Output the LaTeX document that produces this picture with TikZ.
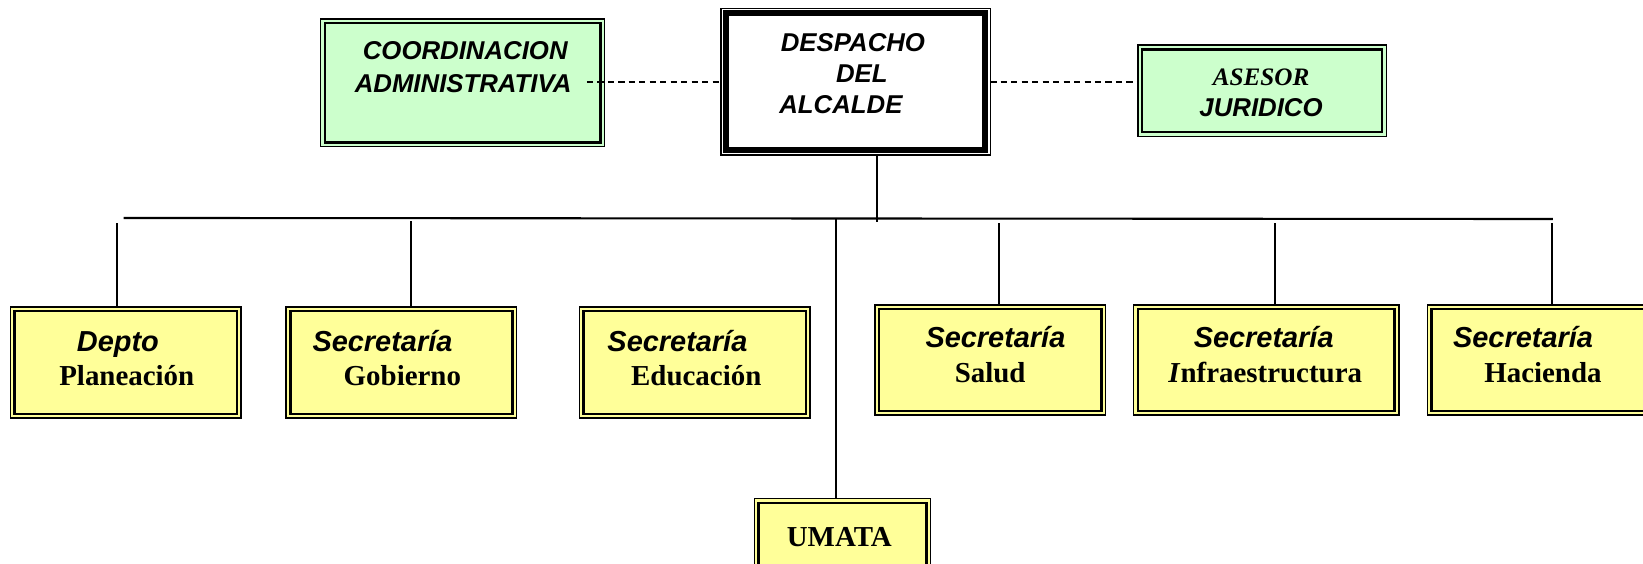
\documentclass[tikz,border=0pt]{standalone}
\usepackage{fontspec}
\setmainfont{Liberation Serif}
\newfontfamily\arialf{Liberation Sans}
\definecolor{boxgreen}{HTML}{CCFFCC}
\definecolor{boxyellow}{HTML}{FFFF99}
\tikzset{
  frame/.style={draw=black, line width=0.6pt, inner sep=0pt, outer sep=0pt, anchor=north west,
    path picture={\draw[line width=1.2pt] ([xshift=2pt,yshift=2pt]path picture bounding box.south west) rectangle ([xshift=-2pt,yshift=-2pt]path picture bounding box.north east);}},
  ybox/.style={frame, fill=boxyellow},
  gbox/.style={frame, fill=boxgreen},
  mainbox/.style={draw=black, line width=0.6pt, inner sep=0pt, outer sep=0pt, anchor=north west, fill=white,
    path picture={\draw[line width=2.8pt] ([xshift=2.3pt,yshift=2.3pt]path picture bounding box.south west) rectangle ([xshift=-2.3pt,yshift=-2.3pt]path picture bounding box.north east);}},
  sfbig/.style={font=\arialf\bfseries\itshape\fontsize{13.8}{16}\selectfont, anchor=base, inner sep=0pt},
  rmbig/.style={font=\bfseries\fontsize{13.8}{16}\selectfont, anchor=base, inner sep=0pt},
  sftop/.style={font=\arialf\bfseries\itshape\fontsize{12.3}{15}\selectfont, anchor=base, inner sep=0pt},
  rmtop/.style={font=\bfseries\itshape\fontsize{12}{15}\selectfont, anchor=base, inner sep=0pt},
  link/.style={line width=0.9pt},
  dashlink/.style={line width=0.85pt, dash pattern=on 3pt off 2pt},
}
\begin{document}
\begin{tikzpicture}[x=0.5pt,y=-0.5pt]
\useasboundingbox (0,0) rectangle (1568,538);
% top boxes
\node[gbox, minimum width=135.5pt, minimum height=61pt] (coord) at (306,18) {};
\node[mainbox, minimum width=128.5pt, minimum height=70pt] (desp) at (688,8) {};
\node[gbox, minimum width=118.5pt, minimum height=43.5pt] (ases) at (1086,43) {};
\node[sftop] (t1) at (444,57) {COORDINACION};
\node[sftop] (t2) at (442,88) {ADMINISTRATIVA};
\node[sftop] (t3) at (814,49) {DESPACHO};
\node[sftop] (t4) at (822.5,79) {DEL};
\node[sftop] (t5) at (802.5,108) {ALCALDE};
\node[rmtop] (t6) at (1203.5,82) {ASESOR};
\node[sftop] (t7) at (1203.5,111) {JURIDICO};
% bottom boxes
\node[ybox, minimum width=110pt, minimum height=53pt] (dep) at (10,293) {};
\node[ybox, minimum width=110pt, minimum height=53pt] (gob) at (273,293) {};
\node[ybox, minimum width=110pt, minimum height=53pt] (edu) at (553,293) {};
\node[ybox, minimum width=110pt, minimum height=52.5pt] (sal) at (835,291) {};
\node[ybox, minimum width=126.5pt, minimum height=52.5pt] (inf) at (1082,291) {};
\node[ybox, minimum width=160pt, minimum height=52.5pt] (hac) at (1362,291) {};
\node[ybox, minimum width=84pt, minimum height=60pt] (uma) at (720,476) {};
\node[sfbig] (b1) at (112.5,335) {Depto};
\node[rmbig] (b2) at (121,368) {Planeación};
\node[sfbig] (b3) at (365,335) {Secretaría};
\node[rmbig] (b4) at (384,368) {Gobierno};
\node[sfbig] (b5) at (646.5,335) {Secretaría};
\node[rmbig] (b6) at (664.5,368) {Educación};
\node[sfbig] (b7) at (950,332) {Secretaría};
\node[rmbig] (b8) at (945,365) {Salud};
\node[sfbig] (b9) at (1206,332) {Secretaría};
\node[rmbig] (b10) at (1207.5,365) {\textit{I}nfraestructura};
\node[sfbig] (b11) at (1453.5,332) {Secretaría};
\node[rmbig] (b12) at (1472.5,365) {Hacienda};
\node[rmbig] (b13) at (801,522) {UMATA};
% connectors
\coordinate (cd) at (560,78);
\draw[dashlink] (cd) -- (cd -| desp.west);
\draw[dashlink] (desp.east) -- (desp.east -| ases.west);
\coordinate (hl) at (118,208);
\coordinate (hr) at (1482,209);
\coordinate (hd) at (837,212);
\draw[line width=1pt] (hl) -- (hr);
\draw[link] (hd |- desp.south) -- (hd);
\coordinate (v1) at (112,213);
\coordinate (v2) at (392,211);
\coordinate (v3) at (798,208);
\coordinate (v4) at (953,213);
\coordinate (v5) at (1217,213);
\coordinate (v6) at (1481,213);
\draw[link] (v1) -- (v1 |- dep.north);
\draw[link] (v2) -- (v2 |- gob.north);
\draw[link] (v3) -- (v3 |- uma.north);
\draw[link] (v4) -- (v4 |- sal.north);
\draw[link] (v5) -- (v5 |- inf.north);
\draw[link] (v6) -- (v6 |- hac.north);
\end{tikzpicture}
\end{document}
